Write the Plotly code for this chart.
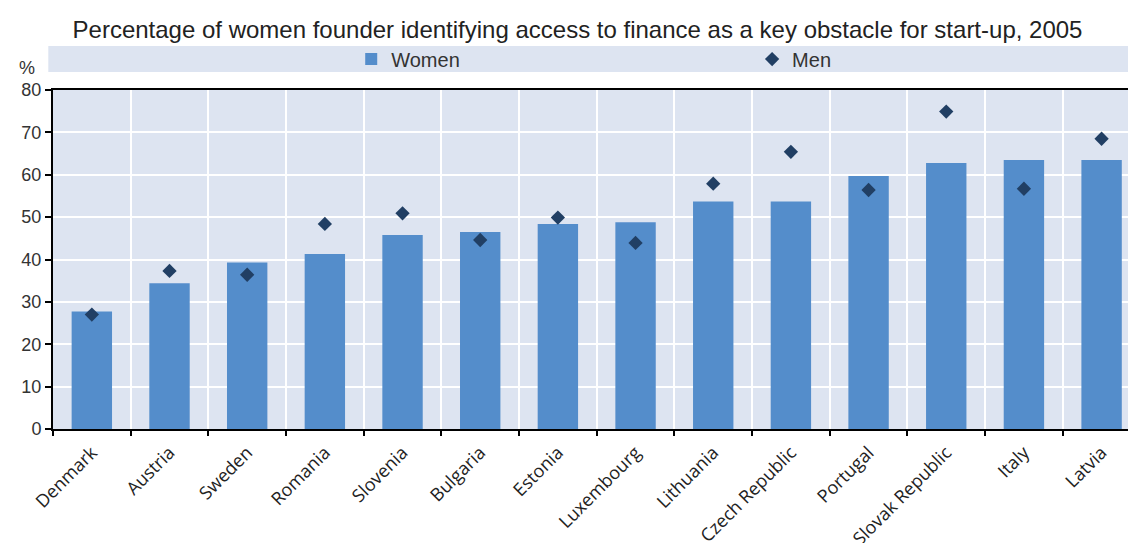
import plotly.graph_objects as go

countries = ["Denmark", "Austria", "Sweden", "Romania", "Slovenia", "Bulgaria", "Estonia",
             "Luxembourg", "Lithuania", "Czech Republic", "Portugal", "Slovak Republic",
             "Italy", "Latvia"]
women = [27.7, 34.4, 39.3, 41.3, 45.8, 46.5, 48.4, 48.8, 53.7, 53.7, 59.7, 62.8, 63.5, 63.5]
men = [27.0, 37.3, 36.4, 48.4, 50.9, 44.6, 49.9, 43.9, 57.9, 65.4, 56.4, 74.9, 56.7, 68.5]
y_ticks = [0, 10, 20, 30, 40, 50, 60, 70, 80]

BAR = "#548DCB"
DIAMOND = "#213F64"
PANEL = "#DDE4F1"

W, H = 1128, 543
L, T, R, B = 52.7, 90, 0, 113.7
plot_w = W - L - R
plot_h = H - T - B


def px_x(px):
    return (px - L) / plot_w


def px_y(py):
    return 1 + (T - py) / plot_h


fig = go.Figure()
fig.add_trace(go.Bar(
    x=countries, y=women, name="Women", width=0.52,
    marker=dict(color=BAR, line=dict(width=0)),
    legend="legend",
))
fig.add_trace(go.Scatter(
    x=countries, y=men, name="Men", mode="markers",
    marker=dict(symbol="diamond", size=11, color=DIAMOND),
    legend="legend2",
))

# legend band across the top of the panel
fig.add_shape(type="rect", xref="paper", yref="paper",
              x0=px_x(48), x1=1.0, y0=px_y(72), y1=px_y(46),
              fillcolor=PANEL, line=dict(width=0), layer="below")

fig.add_annotation(text="%", xref="paper", yref="paper",
                   x=px_x(27), y=px_y(68),
                   xanchor="center", yanchor="middle", showarrow=False,
                   font=dict(family="Liberation Sans, Arial", size=18, color="#333333"))

legend_common = dict(
    orientation="h", xanchor="left", yanchor="middle",
    bgcolor="rgba(0,0,0,0)", itemclick=False, itemdoubleclick=False,
    font=dict(family="Liberation Sans, Arial", size=20, color="#333333"),
)

fig.update_layout(
    width=W, height=H,
    margin=dict(l=L, r=R, t=T, b=B, pad=0, autoexpand=False),
    paper_bgcolor="white",
    plot_bgcolor=PANEL,
    font=dict(family="Liberation Sans, Arial", color="#333333"),
    title=dict(
        text="Percentage of women founder identifying access to finance as a key obstacle for start-up, 2005",
        x=577.5 / W, xanchor="center", xref="container",
        y=1 - 30 / H, yanchor="middle", yref="container",
        font=dict(family="Liberation Sans, Arial", size=24, color="#222222"),
    ),
    showlegend=True,
    legend=dict(x=px_x(351), y=px_y(59), **legend_common),
    legend2=dict(x=px_x(752), y=px_y(59), **legend_common),
    bargap=0.48,
)

fig.update_xaxes(
    type="category",
    range=[-0.5, 13.34],
    automargin=False,
    tickson="boundaries",
    ticks="outside", ticklen=5, tickwidth=1.5, tickcolor="#000000",
    showgrid=True, gridcolor="white", gridwidth=1.5,
    showline=True, linecolor="#000000", linewidth=2, mirror=True,
    tickangle=-45,
    ticklabelstandoff=4,
    tickfont=dict(family="Open Sans", size=18, color="#222222"),
)
fig.update_yaxes(
    range=[0, 80],
    automargin=False,
    tickvals=y_ticks,
    ticks="outside", ticklen=6, tickwidth=1.5, tickcolor="#000000",
    showgrid=True, gridcolor="white", gridwidth=1.5,
    showline=True, linecolor="#000000", linewidth=2,
    zeroline=False,
    tickfont=dict(family="Liberation Sans, Arial", size=18, color="#333333"),
)

fig.write_html("out.html")
